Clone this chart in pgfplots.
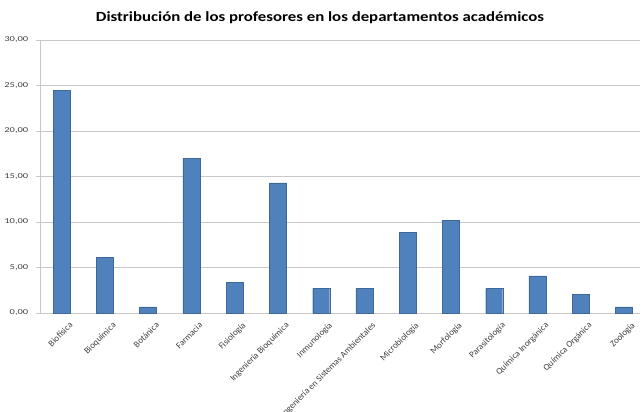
\documentclass[border=0pt]{standalone}
\usepackage{pgfplots}
\pgfplotsset{compat=1.18}
\usepackage{fontspec}
\setmainfont{Carlito}
\definecolor{barblue}{HTML}{4F81BD}
\definecolor{gridgray}{HTML}{C8C8C8}
\definecolor{labgray}{HTML}{404040}
\begin{document}
\begin{tikzpicture}
\path[use as bounding box] (0bp,0bp) rectangle (641bp,-412bp);
\node[font=\fontsize{14bp}{16bp}\selectfont\bfseries, xscale=1.2] at (320bp,-18bp) {Distribución de los profesores en los departamentos académicos};
\begin{axis}[
  at={(40bp,-40bp)}, anchor=north west,
  scale only axis, width=600bp, height=273bp,
  xmin=-0.5, xmax=13.37, ymin=0, ymax=30,
  axis x line*=bottom, axis y line*=left,
  axis line style={gridgray, line width=0.8pt},
  ymajorgrids, grid style={gridgray, line width=0.8pt},
  ytick={0,5,...,30},
  /pgf/number format/fixed, /pgf/number format/fixed zerofill,
  /pgf/number format/precision=2, /pgf/number format/use comma,
  /pgf/number format/assume math mode=true,
  yticklabel style={font=\fontsize{7.5bp}{8bp}\selectfont, text=labgray, xscale=1.4, anchor=east, xshift=-2bp},
  xtick={0,...,13},
  xticklabels={Biofísica,Bioquímica,Botánica,Farmacia,Fisiología,Ingeniería Bioquímica,Inmunología,Ingeniería en Sistemas Ambientales,Microbiología,Morfología,Parasitología,Química Inorgánica,Química Orgánica,Zoología},
  xticklabel style={font=\fontsize{9bp}{10bp}\selectfont, text=labgray, rotate=45, anchor=north east, inner sep=1pt, yshift=-7bp, xshift=3bp},
  major x tick style={draw=none},
  extra x ticks={-0.5,0.5,...,13.5},
  extra x tick labels={},
  extra x tick style={major tick length=4bp, tick style={gridgray, line width=0.8pt}, grid=none},
  major tick length=4bp,
  tick align=outside,
  ytick style={gridgray, line width=0.8pt},
  ybar, bar width=17bp,
]
\addplot[fill=barblue, draw=barblue!80!black, line width=0.3pt] coordinates {
(0,24.49) (1,6.12) (2,0.68) (3,17.01) (4,3.40) (5,14.29) (6,2.72) (7,2.72) (8,8.84) (9,10.20) (10,2.72) (11,4.08) (12,2.04) (13,0.68)
};
\end{axis}
\end{tikzpicture}
\end{document}
